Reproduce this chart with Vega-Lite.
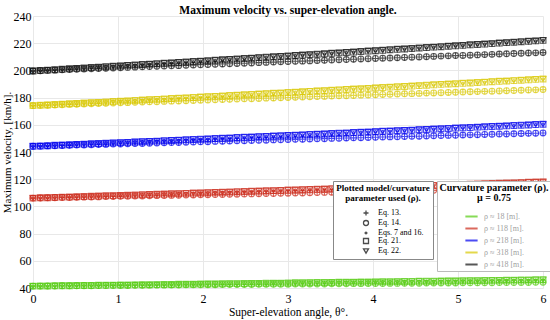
{
  "$schema": "https://vega.github.io/schema/vega-lite/v6.json",
  "width": 510,
  "height": 272,
  "autosize": {"type": "none"},
  "padding": {"left": 33, "top": 16, "right": 7, "bottom": 32},
  "title": {"text": "Maximum velocity vs. super-elevation angle.", "font": "Liberation Serif", "fontSize": 11.5, "fontWeight": "bold", "anchor": "middle", "frame": "group", "offset": -6, "color": "black"},
  "config": {
    "font": "Liberation Serif",
    "view": {"stroke": null},
    "axis": {"labelFont": "Liberation Serif", "titleFont": "Liberation Serif", "labelFontSize": 12, "titleFontSize": 11.5, "titleFontWeight": "normal", "labelColor": "black", "titleColor": "black", "gridColor": "#e8e8e8", "domain": false, "ticks": false}
  },
  "datasets": {
    "hi": [
      {"t":0,"18":41.4,"118":106.1,"218":144.2,"318":174.1,"418":199.6},
      {"t":0.086,"18":41.5,"118":106.3,"218":144.4,"318":174.4,"418":199.9},
      {"t":0.171,"18":41.5,"118":106.4,"218":144.6,"318":174.6,"418":200.2},
      {"t":0.257,"18":41.6,"118":106.6,"218":144.9,"318":174.9,"418":200.5},
      {"t":0.343,"18":41.7,"118":106.8,"218":145.1,"318":175.2,"418":200.8},
      {"t":0.429,"18":41.7,"118":106.9,"218":145.3,"318":175.5,"418":201.2},
      {"t":0.514,"18":41.8,"118":107.1,"218":145.6,"318":175.7,"418":201.5},
      {"t":0.6,"18":41.9,"118":107.3,"218":145.8,"318":176.0,"418":201.8},
      {"t":0.686,"18":41.9,"118":107.4,"218":146.0,"318":176.3,"418":202.1},
      {"t":0.771,"18":42.0,"118":107.6,"218":146.2,"318":176.5,"418":202.4},
      {"t":0.857,"18":42.0,"118":107.8,"218":146.5,"318":176.8,"418":202.7},
      {"t":0.943,"18":42.1,"118":107.9,"218":146.7,"318":177.1,"418":203.0},
      {"t":1.029,"18":42.2,"118":108.1,"218":146.9,"318":177.4,"418":203.3},
      {"t":1.114,"18":42.2,"118":108.3,"218":147.1,"318":177.6,"418":203.7},
      {"t":1.2,"18":42.3,"118":108.4,"218":147.4,"318":177.9,"418":204.0},
      {"t":1.286,"18":42.4,"118":108.6,"218":147.6,"318":178.2,"418":204.3},
      {"t":1.371,"18":42.4,"118":108.8,"218":147.8,"318":178.5,"418":204.6},
      {"t":1.457,"18":42.5,"118":108.9,"218":148.0,"318":178.7,"418":204.9},
      {"t":1.543,"18":42.6,"118":109.1,"218":148.3,"318":179.0,"418":205.2},
      {"t":1.629,"18":42.6,"118":109.3,"218":148.5,"318":179.3,"418":205.5},
      {"t":1.714,"18":42.7,"118":109.4,"218":148.7,"318":179.6,"418":205.9},
      {"t":1.8,"18":42.8,"118":109.6,"218":149.0,"318":179.8,"418":206.2},
      {"t":1.886,"18":42.8,"118":109.8,"218":149.2,"318":180.1,"418":206.5},
      {"t":1.971,"18":42.9,"118":109.9,"218":149.4,"318":180.4,"418":206.8},
      {"t":2.057,"18":43.0,"118":110.1,"218":149.6,"318":180.7,"418":207.1},
      {"t":2.143,"18":43.0,"118":110.3,"218":149.9,"318":180.9,"418":207.4},
      {"t":2.229,"18":43.1,"118":110.4,"218":150.1,"318":181.2,"418":207.8},
      {"t":2.314,"18":43.2,"118":110.6,"218":150.3,"318":181.5,"418":208.1},
      {"t":2.4,"18":43.2,"118":110.8,"218":150.6,"318":181.8,"418":208.4},
      {"t":2.486,"18":43.3,"118":110.9,"218":150.8,"318":182.1,"418":208.7},
      {"t":2.571,"18":43.4,"118":111.1,"218":151.0,"318":182.3,"418":209.0},
      {"t":2.657,"18":43.4,"118":111.3,"218":151.3,"318":182.6,"418":209.4},
      {"t":2.743,"18":43.5,"118":111.5,"218":151.5,"318":182.9,"418":209.7},
      {"t":2.829,"18":43.6,"118":111.6,"218":151.7,"318":183.2,"418":210.0},
      {"t":2.914,"18":43.6,"118":111.8,"218":151.9,"318":183.4,"418":210.3},
      {"t":3,"18":43.7,"118":112.0,"218":152.2,"318":183.7,"418":210.6},
      {"t":3.086,"18":43.8,"118":112.1,"218":152.4,"318":184.0,"418":211.0},
      {"t":3.171,"18":43.8,"118":112.3,"218":152.6,"318":184.3,"418":211.3},
      {"t":3.257,"18":43.9,"118":112.5,"218":152.9,"318":184.6,"418":211.6},
      {"t":3.343,"18":44.0,"118":112.7,"218":153.1,"318":184.9,"418":211.9},
      {"t":3.429,"18":44.0,"118":112.8,"218":153.3,"318":185.1,"418":212.2},
      {"t":3.514,"18":44.1,"118":113.0,"218":153.6,"318":185.4,"418":212.6},
      {"t":3.6,"18":44.2,"118":113.2,"218":153.8,"318":185.7,"418":212.9},
      {"t":3.686,"18":44.2,"118":113.3,"218":154.0,"318":186.0,"418":213.2},
      {"t":3.771,"18":44.3,"118":113.5,"218":154.3,"318":186.3,"418":213.5},
      {"t":3.857,"18":44.4,"118":113.7,"218":154.5,"318":186.5,"418":213.9},
      {"t":3.943,"18":44.4,"118":113.9,"218":154.7,"318":186.8,"418":214.2},
      {"t":4.029,"18":44.5,"118":114.0,"218":155.0,"318":187.1,"418":214.5},
      {"t":4.114,"18":44.6,"118":114.2,"218":155.2,"318":187.4,"418":214.8},
      {"t":4.2,"18":44.6,"118":114.4,"218":155.4,"318":187.7,"418":215.2},
      {"t":4.286,"18":44.7,"118":114.5,"218":155.7,"318":188.0,"418":215.5},
      {"t":4.371,"18":44.8,"118":114.7,"218":155.9,"318":188.2,"418":215.8},
      {"t":4.457,"18":44.8,"118":114.9,"218":156.1,"318":188.5,"418":216.1},
      {"t":4.543,"18":44.9,"118":115.1,"218":156.4,"318":188.8,"418":216.5},
      {"t":4.629,"18":45.0,"118":115.2,"218":156.6,"318":189.1,"418":216.8},
      {"t":4.714,"18":45.0,"118":115.4,"218":156.9,"318":189.4,"418":217.1},
      {"t":4.8,"18":45.1,"118":115.6,"218":157.1,"318":189.7,"418":217.4},
      {"t":4.886,"18":45.2,"118":115.8,"218":157.3,"318":190.0,"418":217.8},
      {"t":4.971,"18":45.2,"118":115.9,"218":157.6,"318":190.2,"418":218.1},
      {"t":5.057,"18":45.3,"118":116.1,"218":157.8,"318":190.5,"418":218.4},
      {"t":5.143,"18":45.4,"118":116.3,"218":158.0,"318":190.8,"418":218.8},
      {"t":5.229,"18":45.4,"118":116.5,"218":158.3,"318":191.1,"418":219.1},
      {"t":5.314,"18":45.5,"118":116.6,"218":158.5,"318":191.4,"418":219.4},
      {"t":5.4,"18":45.6,"118":116.8,"218":158.8,"318":191.7,"418":219.7},
      {"t":5.486,"18":45.6,"118":117.0,"218":159.0,"318":192.0,"418":220.1},
      {"t":5.571,"18":45.7,"118":117.2,"218":159.2,"318":192.2,"418":220.4},
      {"t":5.657,"18":45.8,"118":117.3,"218":159.5,"318":192.5,"418":220.7},
      {"t":5.743,"18":45.9,"118":117.5,"218":159.7,"318":192.8,"418":221.1},
      {"t":5.829,"18":45.9,"118":117.7,"218":159.9,"318":193.1,"418":221.4},
      {"t":5.914,"18":46.0,"118":117.9,"218":160.2,"318":193.4,"418":221.7},
      {"t":6,"18":46.1,"118":118.0,"218":160.4,"318":193.7,"418":222.1}
    ],
    "lo": [
      {"t":0,"18":41.4,"118":106.1,"218":144.2,"318":174.1,"418":199.6},
      {"t":0.086,"18":41.4,"118":106.2,"218":144.3,"318":174.3,"418":199.8},
      {"t":0.171,"18":41.5,"118":106.3,"218":144.5,"318":174.4,"418":200.0},
      {"t":0.257,"18":41.5,"118":106.4,"218":144.6,"318":174.6,"418":200.2},
      {"t":0.343,"18":41.6,"118":106.5,"218":144.8,"318":174.8,"418":200.4},
      {"t":0.429,"18":41.6,"118":106.6,"218":144.9,"318":175.0,"418":200.6},
      {"t":0.514,"18":41.6,"118":106.7,"218":145.1,"318":175.1,"418":200.8},
      {"t":0.6,"18":41.7,"118":106.8,"218":145.2,"318":175.3,"418":201.0},
      {"t":0.686,"18":41.7,"118":106.9,"218":145.3,"318":175.5,"418":201.2},
      {"t":0.771,"18":41.8,"118":107.0,"218":145.5,"318":175.7,"418":201.4},
      {"t":0.857,"18":41.8,"118":107.2,"218":145.6,"318":175.8,"418":201.6},
      {"t":0.943,"18":41.9,"118":107.3,"218":145.8,"318":176.0,"418":201.8},
      {"t":1.029,"18":41.9,"118":107.4,"218":145.9,"318":176.2,"418":202.0},
      {"t":1.114,"18":41.9,"118":107.5,"218":146.1,"318":176.3,"418":202.2},
      {"t":1.2,"18":42.0,"118":107.6,"218":146.2,"318":176.5,"418":202.4},
      {"t":1.286,"18":42.0,"118":107.7,"218":146.3,"318":176.7,"418":202.6},
      {"t":1.371,"18":42.1,"118":107.8,"218":146.5,"318":176.9,"418":202.8},
      {"t":1.457,"18":42.1,"118":107.9,"218":146.6,"318":177.0,"418":203.0},
      {"t":1.543,"18":42.1,"118":108.0,"218":146.8,"318":177.2,"418":203.2},
      {"t":1.629,"18":42.2,"118":108.1,"218":146.9,"318":177.4,"418":203.4},
      {"t":1.714,"18":42.2,"118":108.2,"218":147.0,"318":177.5,"418":203.5},
      {"t":1.8,"18":42.3,"118":108.3,"218":147.2,"318":177.7,"418":203.7},
      {"t":1.886,"18":42.3,"118":108.4,"218":147.3,"318":177.9,"418":203.9},
      {"t":1.971,"18":42.3,"118":108.5,"218":147.5,"318":178.1,"418":204.1},
      {"t":2.057,"18":42.4,"118":108.6,"218":147.6,"318":178.2,"418":204.3},
      {"t":2.143,"18":42.4,"118":108.7,"218":147.8,"318":178.4,"418":204.5},
      {"t":2.229,"18":42.5,"118":108.8,"218":147.9,"318":178.6,"418":204.7},
      {"t":2.314,"18":42.5,"118":108.9,"218":148.0,"318":178.7,"418":204.9},
      {"t":2.4,"18":42.5,"118":109.0,"218":148.2,"318":178.9,"418":205.1},
      {"t":2.486,"18":42.6,"118":109.1,"218":148.3,"318":179.1,"418":205.3},
      {"t":2.571,"18":42.6,"118":109.2,"218":148.5,"318":179.2,"418":205.5},
      {"t":2.657,"18":42.7,"118":109.3,"218":148.6,"318":179.4,"418":205.7},
      {"t":2.743,"18":42.7,"118":109.4,"218":148.7,"318":179.6,"418":205.9},
      {"t":2.829,"18":42.7,"118":109.5,"218":148.9,"318":179.7,"418":206.1},
      {"t":2.914,"18":42.8,"118":109.6,"218":149.0,"318":179.9,"418":206.3},
      {"t":3,"18":42.8,"118":109.7,"218":149.1,"318":180.1,"418":206.5},
      {"t":3.086,"18":42.9,"118":109.8,"218":149.3,"318":180.2,"418":206.7},
      {"t":3.171,"18":42.9,"118":109.9,"218":149.4,"318":180.4,"418":206.8},
      {"t":3.257,"18":42.9,"118":110.0,"218":149.6,"318":180.6,"418":207.0},
      {"t":3.343,"18":43.0,"118":110.2,"218":149.7,"318":180.8,"418":207.2},
      {"t":3.429,"18":43.0,"118":110.3,"218":149.8,"318":180.9,"418":207.4},
      {"t":3.514,"18":43.1,"118":110.4,"218":150.0,"318":181.1,"418":207.6},
      {"t":3.6,"18":43.1,"118":110.5,"218":150.1,"318":181.3,"418":207.8},
      {"t":3.686,"18":43.1,"118":110.6,"218":150.3,"318":181.4,"418":208.0},
      {"t":3.771,"18":43.2,"118":110.7,"218":150.4,"318":181.6,"418":208.2},
      {"t":3.857,"18":43.2,"118":110.8,"218":150.5,"318":181.8,"418":208.4},
      {"t":3.943,"18":43.3,"118":110.9,"218":150.7,"318":181.9,"418":208.6},
      {"t":4.029,"18":43.3,"118":111.0,"218":150.8,"318":182.1,"418":208.8},
      {"t":4.114,"18":43.3,"118":111.1,"218":151.0,"318":182.3,"418":209.0},
      {"t":4.2,"18":43.4,"118":111.2,"218":151.1,"318":182.4,"418":209.1},
      {"t":4.286,"18":43.4,"118":111.3,"218":151.2,"318":182.6,"418":209.3},
      {"t":4.371,"18":43.5,"118":111.4,"218":151.4,"318":182.8,"418":209.5},
      {"t":4.457,"18":43.5,"118":111.5,"218":151.5,"318":182.9,"418":209.7},
      {"t":4.543,"18":43.5,"118":111.6,"218":151.6,"318":183.1,"418":209.9},
      {"t":4.629,"18":43.6,"118":111.7,"218":151.8,"318":183.3,"418":210.1},
      {"t":4.714,"18":43.6,"118":111.8,"218":151.9,"318":183.4,"418":210.3},
      {"t":4.8,"18":43.7,"118":111.9,"218":152.1,"318":183.6,"418":210.5},
      {"t":4.886,"18":43.7,"118":112.0,"218":152.2,"318":183.8,"418":210.7},
      {"t":4.971,"18":43.7,"118":112.1,"218":152.3,"318":183.9,"418":210.9},
      {"t":5.057,"18":43.8,"118":112.2,"218":152.5,"318":184.1,"418":211.0},
      {"t":5.143,"18":43.8,"118":112.3,"218":152.6,"318":184.3,"418":211.2},
      {"t":5.229,"18":43.9,"118":112.4,"218":152.7,"318":184.4,"418":211.4},
      {"t":5.314,"18":43.9,"118":112.5,"218":152.9,"318":184.6,"418":211.6},
      {"t":5.4,"18":43.9,"118":112.6,"218":153.0,"318":184.7,"418":211.8},
      {"t":5.486,"18":44.0,"118":112.7,"218":153.2,"318":184.9,"418":212.0},
      {"t":5.571,"18":44.0,"118":112.8,"218":153.3,"318":185.1,"418":212.2},
      {"t":5.657,"18":44.0,"118":112.9,"218":153.4,"318":185.2,"418":212.4},
      {"t":5.743,"18":44.1,"118":113.0,"218":153.6,"318":185.4,"418":212.6},
      {"t":5.829,"18":44.1,"118":113.1,"218":153.7,"318":185.6,"418":212.8},
      {"t":5.914,"18":44.2,"118":113.2,"218":153.8,"318":185.7,"418":212.9},
      {"t":6,"18":44.2,"118":113.3,"218":154.0,"318":185.9,"418":213.1}
    ]
  },
  "encoding": {
    "x": {"field": "t", "type": "quantitative", "scale": {"domain": [0, 6], "nice": false}, "axis": {"values": [0,1,2,3,4,5,6], "title": "Super-elevation angle, θ°.", "labelPadding": 5, "titlePadding": 2, "labelFlush": false}},
    "y": {"field": "v", "type": "quantitative", "scale": {"domain": [40, 240], "nice": false, "zero": false}, "axis": {"values": [40,60,80,100,120,140,160,180,200,220,240], "title": "Maximum velocity, [km/h].", "labelPadding": 2, "titlePadding": 1, "titleFontSize": 11, "labelFlush": false}},
    "color": {"field": "rho", "type": "nominal", "scale": {"domain": ["18","118","218","318","418"], "range": ["#55cc11","#cc2a1a","#0000ee","#d9c800","#111111"]},
      "legend": {"orient": "none", "legendX": 404, "legendY": 165, "title": ["Curvature parameter (ρ).", "μ = 0.75"], "titleFont": "Liberation Serif", "titleFontSize": 10, "titleFontWeight": "bold", "titleColor": "black", "titleAnchor": "middle", "titleAlign": "center", "titleLineHeight": 10, "titlePadding": 6, "labelFont": "Liberation Serif", "labelFontSize": 8, "labelColor": "#a0a0a0", "labelExpr": "'ρ ≈ ' + datum.label + ' [m].'", "symbolType": "stroke", "symbolStrokeWidth": 2, "symbolSize": 150, "symbolOffset": 0, "labelOffset": 5, "rowPadding": -2, "padding": 2, "strokeColor": "#bbbbbb", "fillColor": "white"}}
  },
  "layer": [
    {
      "data": {"name": "lo"},
      "transform": [{"fold": ["18","118","218","318","418"], "as": ["rho", "v"]}],
      "mark": {"type": "point", "filled": false, "size": 34, "strokeWidth": 1.1, "color": "black", "clip": false},
      "encoding": {
        "shape": {"datum": "Eq. 13.", "type": "nominal",
          "scale": {"domain": ["Eq. 13.", "Eq. 14.", "Eqs. 7 and 16.", "Eq. 21.", "Eq. 22."], "range": ["M-1,0L1,0M0,-1L0,1", "circle", "M-0.35,0A0.35,0.35 0 1,0 0.35,0A0.35,0.35 0 1,0 -0.35,0Z", "square", "triangle-down"]},
          "legend": {"orient": "none", "legendX": 300, "legendY": 165, "title": ["Plotted model/curvature", "parameter used (ρ)."], "titleFont": "Liberation Serif", "titleFontSize": 9, "titleFontWeight": "bold", "titleColor": "black", "titleAnchor": "middle", "titleAlign": "center", "titleLineHeight": 10, "titlePadding": 6, "labelFont": "Liberation Serif", "labelFontSize": 8, "labelColor": "black", "symbolStrokeColor": "black", "symbolFillColor": "transparent", "symbolSize": 25, "symbolStrokeWidth": 1.3, "symbolOffset": 20, "labelOffset": 8, "rowPadding": -3, "padding": 3, "strokeColor": "#888888", "fillColor": "white"}}
      }
    },
    {
      "data": {"name": "lo"},
      "transform": [{"fold": ["18","118","218","318","418"], "as": ["rho", "v"]}],
      "mark": {"type": "point", "filled": false, "size": 34, "strokeWidth": 1.1, "color": "black", "clip": false},
      "encoding": {"shape": {"datum": "Eq. 14.", "type": "nominal"}}
    },
    {
      "data": {"name": "hi"},
      "transform": [{"fold": ["18","118","218","318","418"], "as": ["rho", "v"]}],
      "mark": {"type": "point", "filled": false, "size": 34, "strokeWidth": 1.3, "color": "black", "clip": false},
      "encoding": {"shape": {"datum": "Eqs. 7 and 16.", "type": "nominal"}}
    },
    {
      "data": {"name": "hi"},
      "transform": [{"fold": ["18","118","218","318","418"], "as": ["rho", "v"]}],
      "mark": {"type": "point", "filled": false, "size": 34, "strokeWidth": 1.1, "color": "black", "clip": false},
      "encoding": {"shape": {"datum": "Eq. 21.", "type": "nominal"}}
    },
    {
      "data": {"name": "hi"},
      "transform": [{"fold": ["18","118","218","318","418"], "as": ["rho", "v"]}],
      "mark": {"type": "point", "filled": false, "size": 34, "strokeWidth": 1.1, "color": "black", "clip": false},
      "encoding": {"shape": {"datum": "Eq. 22.", "type": "nominal"}}
    }
  ]
}
